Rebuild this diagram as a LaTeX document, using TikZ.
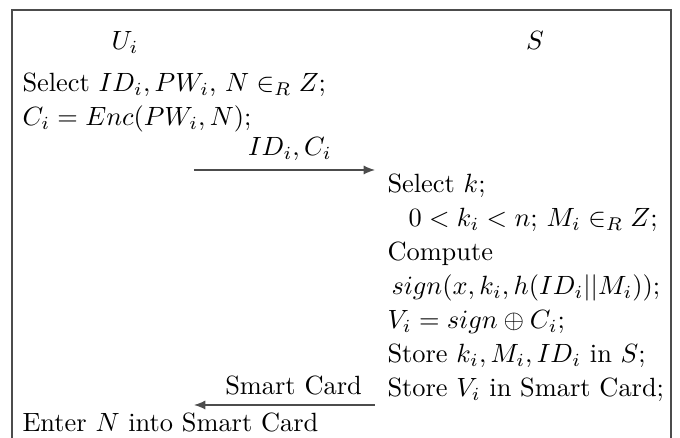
\documentclass[tikz,border=0pt]{standalone}
\usepackage{amsmath}
\usepackage{amssymb}
\usetikzlibrary{arrows.meta,positioning}
\colorlet{rulegray}{black!70}

\begin{document}
\begin{tikzpicture}[
    x=0.379pt, y=-0.379pt,
    party/.style={anchor=base, inner sep=0pt},
    stepline/.style={anchor=base west, inner sep=0pt},
    msg/.style={-{Latex[length=1.5mm,width=1.2mm]}, draw=rulegray, line width=0.5pt},
    frame/.style={draw=rulegray, line width=0.55pt}
]
\useasboundingbox (0,0) rectangle (680,438);
\draw[frame] (12,438) |- (671,10) -- (671,438);

\node[party] (user) at (125,50) {$U_i$};
\node[party] (server) at (535,50) {$S$};

\node[stepline] (sel) at (22,92) {Select $ID_i, PW_i$, $N \in_R Z$;};
\node[stepline] (enc) at (22,126) {$C_i = Enc(PW_i, N)$;};

\coordinate (m1a) at (194,170);
\coordinate (m1b) at (375,170);
\draw[msg] (m1a) -- node[above, pos=0.53] (idc) {$ID_i, C_i$} (m1b);

\node[stepline] (selk) at (387,193) {Select $k$;};
\node[stepline] (range) at (408,227) {$0 < k_i < n$; $M_i \in_R Z$;};
\node[stepline] (comp) at (387,261) {Compute};
\node[stepline] (sign) at (391,295) {$sign(x, k_i, h(ID_i||M_i))$;};
\node[stepline] (vi) at (387,329) {$V_i = sign \oplus C_i$;};
\node[stepline] (store) at (387,363) {Store $k_i, M_i, ID_i$ in $S$;};
\node[stepline] (storev) at (387,397) {Store $V_i$ in Smart Card;};

\coordinate (m2a) at (375,405);
\coordinate (m2b) at (194,405);
\draw[msg] (m2a) -- node[above, pos=0.45] (card) {Smart Card} (m2b);

\node[stepline] (enter) at (22,432) {Enter $N$ into Smart Card};
\end{tikzpicture}
\end{document}
